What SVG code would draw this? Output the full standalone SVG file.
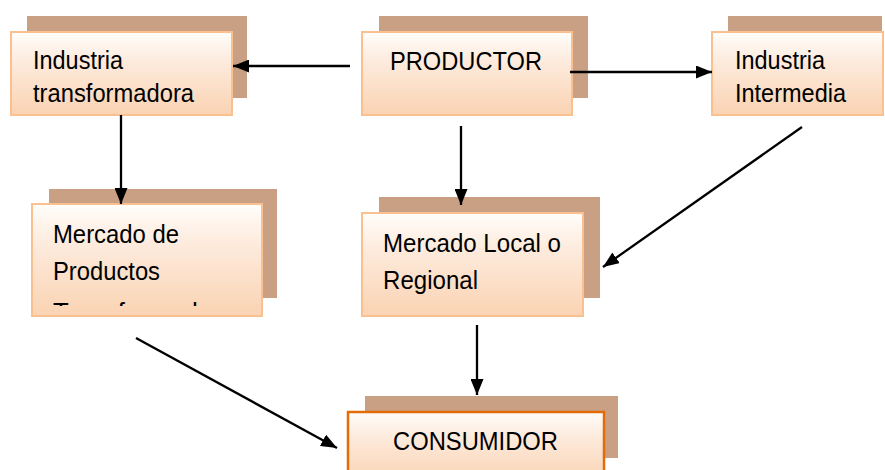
<svg xmlns="http://www.w3.org/2000/svg" width="885" height="470" viewBox="0 0 885 470">
  <style>
    .shadow { fill: #C9A083; }
    .box { fill: url(#peach); stroke: #FAC090; stroke-width: 2; }
    .box-strong { fill: url(#peach); stroke: #E36C09; stroke-width: 2.5; }
    .label { font-family: "Liberation Sans", Arial, sans-serif; font-size: 25.5px; fill: #000; }
    .link { stroke: #000; stroke-width: 2.3; fill: none; marker-end: url(#arrow); }
  </style>
  <defs>
    <linearGradient id="peach" x1="0" y1="0" x2="0" y2="1">
      <stop offset="0" stop-color="#FFFDFB"/>
      <stop offset="0.35" stop-color="#FDEBDD"/>
      <stop offset="1" stop-color="#FAD3B2"/>
    </linearGradient>
    <marker id="arrow" viewBox="0 0 16 13" refX="16" refY="6.5" markerWidth="16" markerHeight="13" orient="auto" markerUnits="userSpaceOnUse">
      <path d="M0,0 L16,6.5 L0,13 Z" fill="#000"/>
    </marker>
    <!-- the third line of this box overflows and is cut off by the box -->
    <clipPath id="clip-mercado-productos">
      <rect x="32" y="204" width="230" height="102"/>
    </clipPath>
  </defs>

  <rect width="885" height="470" fill="#fff"/>

  <g id="industria-transformadora">
    <rect class="shadow" x="27" y="16" width="220" height="82"/>
    <rect class="box" x="11" y="32" width="221" height="83"/>
    <text class="label" x="33" y="69" textLength="90" lengthAdjust="spacingAndGlyphs">Industria</text>
    <text class="label" x="33" y="102" textLength="161" lengthAdjust="spacingAndGlyphs">transformadora</text>
  </g>

  <g id="productor">
    <rect class="shadow" x="379" y="16" width="209" height="82"/>
    <rect class="box" x="362" y="32" width="210" height="83"/>
    <text class="label" x="390" y="70" textLength="152" lengthAdjust="spacingAndGlyphs">PRODUCTOR</text>
  </g>

  <g id="industria-intermedia">
    <rect class="shadow" x="728" y="16" width="154" height="82"/>
    <rect class="box" x="712" y="32" width="171" height="83"/>
    <text class="label" x="735" y="69" textLength="90" lengthAdjust="spacingAndGlyphs">Industria</text>
    <text class="label" x="735" y="102" textLength="111" lengthAdjust="spacingAndGlyphs">Intermedia</text>
  </g>

  <g id="mercado-productos">
    <rect class="shadow" x="49" y="189" width="228" height="109"/>
    <rect class="box" x="32" y="204" width="230" height="112"/>
    <g clip-path="url(#clip-mercado-productos)">
      <text class="label" x="53" y="243" textLength="126" lengthAdjust="spacingAndGlyphs">Mercado de</text>
      <text class="label" x="53" y="280" textLength="107" lengthAdjust="spacingAndGlyphs">Productos</text>
      <text class="label" x="53" y="321" textLength="172" lengthAdjust="spacingAndGlyphs">Transformados</text>
    </g>
  </g>

  <g id="mercado-local">
    <rect class="shadow" x="379" y="197" width="221" height="101"/>
    <rect class="box" x="362" y="213" width="221" height="103"/>
    <text class="label" x="383" y="252" textLength="178" lengthAdjust="spacingAndGlyphs">Mercado Local o</text>
    <text class="label" x="383" y="289" textLength="95" lengthAdjust="spacingAndGlyphs">Regional</text>
  </g>

  <g id="consumidor">
    <rect class="shadow" x="365" y="396" width="253" height="62"/>
    <rect class="box-strong" x="348" y="412" width="256" height="70"/>
    <text class="label" x="393" y="450" textLength="165" lengthAdjust="spacingAndGlyphs">CONSUMIDOR</text>
  </g>

  <g id="connectors">
    <line class="link" x1="350" y1="66" x2="233" y2="66"/>
    <line class="link" x1="570" y1="72" x2="712" y2="72"/>
    <line class="link" x1="121" y1="115" x2="121" y2="204"/>
    <line class="link" x1="461" y1="126" x2="461" y2="205"/>
    <line class="link" x1="802" y1="127" x2="603" y2="267"/>
    <line class="link" x1="136" y1="338" x2="337" y2="448"/>
    <line class="link" x1="477" y1="325" x2="477" y2="395"/>
  </g>
</svg>
